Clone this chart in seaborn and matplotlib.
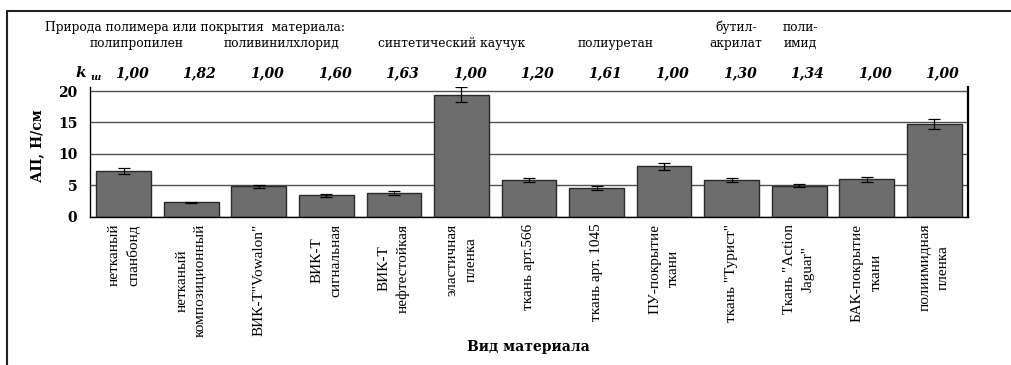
import matplotlib
matplotlib.use("Agg")
import matplotlib.pyplot as plt
import numpy as np
import pandas as pd
import seaborn as sns
from matplotlib.lines import Line2D
import matplotlib.transforms as mtransforms

# ---- data ----
materials = [
    "нетканый\nспанбонд",
    "нетканый\nкомпозиционный",
    "ВИК-Т\"Vowalon\"",
    "ВИК-Т\nсигнальная",
    "ВИК-Т\nнефтестойкая",
    "эластичная\nпленка",
    "ткань арт.566",
    "ткань арт. 1045",
    "ПУ-покрытие\nткани",
    "ткань \"Турист\"",
    "Ткань \"Action\nJaguar\"",
    "БАК-покрытие\nткани",
    "полиимидная\nпленка",
]
adhesion = [7.32, 2.29, 4.84, 3.40, 3.72, 19.45, 5.84, 4.52, 8.02, 5.84, 4.94, 6.00, 14.76]
adhesion_err = [0.50, 0.08, 0.28, 0.20, 0.33, 1.20, 0.33, 0.30, 0.55, 0.28, 0.20, 0.40, 0.85]
k_values = ["1,00", "1,82", "1,00", "1,60", "1,63", "1,00", "1,20",
            "1,61", "1,00", "1,30", "1,34", "1,00", "1,00"]
polymer_names = ["полипропилен", "поливинилхлорид", "синтетический каучук",
                 "полиуретан", "бутил-\nакрилат", "поли-\nимид"]

df = pd.DataFrame({"material": materials, "ap": adhesion})

W, H = 1012, 365
sns.set_style("white")
plt.rcParams["font.family"] = ["DejaVu Serif"]
plt.rcParams["text.color"] = "black"
plt.rcParams["axes.labelcolor"] = "black"
plt.rcParams["xtick.color"] = "black"
plt.rcParams["ytick.color"] = "black"

fig = plt.figure(figsize=(W / 100, H / 100), dpi=100)
ax = fig.add_axes([90 / W, 1 - 216.7 / H, 878 / W, 130 / H])

sns.barplot(data=df, x="material", y="ap", color="#6d6d6d", saturation=1,
            width=0.81, edgecolor="#2a2a2a", linewidth=1, ax=ax, zorder=2)
ax.errorbar(np.arange(len(adhesion)), adhesion, yerr=adhesion_err, fmt="none",
            ecolor="black", elinewidth=0.9, capsize=4, capthick=0.9, zorder=3)

ax.set_ylim(0, 20.7)
ax.set_xlim(-0.5, len(materials) - 0.5)
ax.set_yticks([0, 5, 10, 15, 20])
ax.yaxis.grid(True, color="#505050", linewidth=1)
ax.set_axisbelow(True)

for s in ["left", "bottom", "right"]:
    ax.spines[s].set_color("black")
    ax.spines[s].set_linewidth(1)
ax.spines["right"].set_linewidth(1.6)
ax.spines["top"].set_visible(False)

ax.tick_params(axis="y", direction="out", length=5, width=1, color="black",
               labelsize=10, pad=4)
for t in ax.get_yticklabels():
    t.set_fontweight("bold")

# category boundary ticks, labels at centres
ax.set_xticks(np.arange(-0.5, len(materials)), minor=True)
ax.tick_params(axis="x", which="minor", direction="out", length=5, width=1, color="black")
ax.tick_params(axis="x", which="major", length=0, pad=5)
ax.set_xticklabels(materials, rotation=90, fontsize=11, family="Liberation Serif",
                   va="top", ha="center", multialignment="center", linespacing=1.55)

ax.set_xlabel("")
ax.set_ylabel("АП, Н/см", fontsize=10, fontweight="bold")
ax.yaxis.set_label_coords(-0.052, 0.55)

# header texts
def fx(px):
    return px / W

def fy(py):
    return 1 - py / H

fig.text(fx(45), fy(28), "Природа полимера или покрытия  материала:", fontsize=8.8,
         va="center", ha="left")
for name, px in zip(polymer_names, [137, 281, 452, 616, 736, 800]):
    if "\n" in name:
        fig.text(fx(px), fy(35.5), name, fontsize=8.8, ha="center", va="center",
                 linespacing=1.25)
    else:
        fig.text(fx(px), fy(43), name, fontsize=8.8, ha="center", va="center")

# k row
fig.text(fx(75), fy(73), "k", fontsize=11, fontweight="bold", style="italic",
         ha="left", va="center")
fig.text(fx(90), fy(78), "ш", fontsize=7, fontweight="bold", style="italic",
         ha="left", va="center")
trans = mtransforms.blended_transform_factory(ax.transData, fig.transFigure)
for i, kv in enumerate(k_values):
    ax.text(i + 0.12, fy(73), kv, transform=trans, fontsize=10, fontweight="bold",
            style="italic", ha="center", va="center")

fig.text(fx(528), fy(347), "Вид материала", fontsize=10, fontweight="bold",
         ha="center", va="center")

# outer frame (left and top edges)
fig.add_artist(Line2D([fx(7), fx(7)], [0, fy(11)], transform=fig.transFigure,
                      color="#222222", linewidth=1.5))
fig.add_artist(Line2D([fx(7), 1], [fy(11), fy(11)], transform=fig.transFigure,
                      color="#222222", linewidth=1.5))

fig.savefig("out.png", dpi=100)
